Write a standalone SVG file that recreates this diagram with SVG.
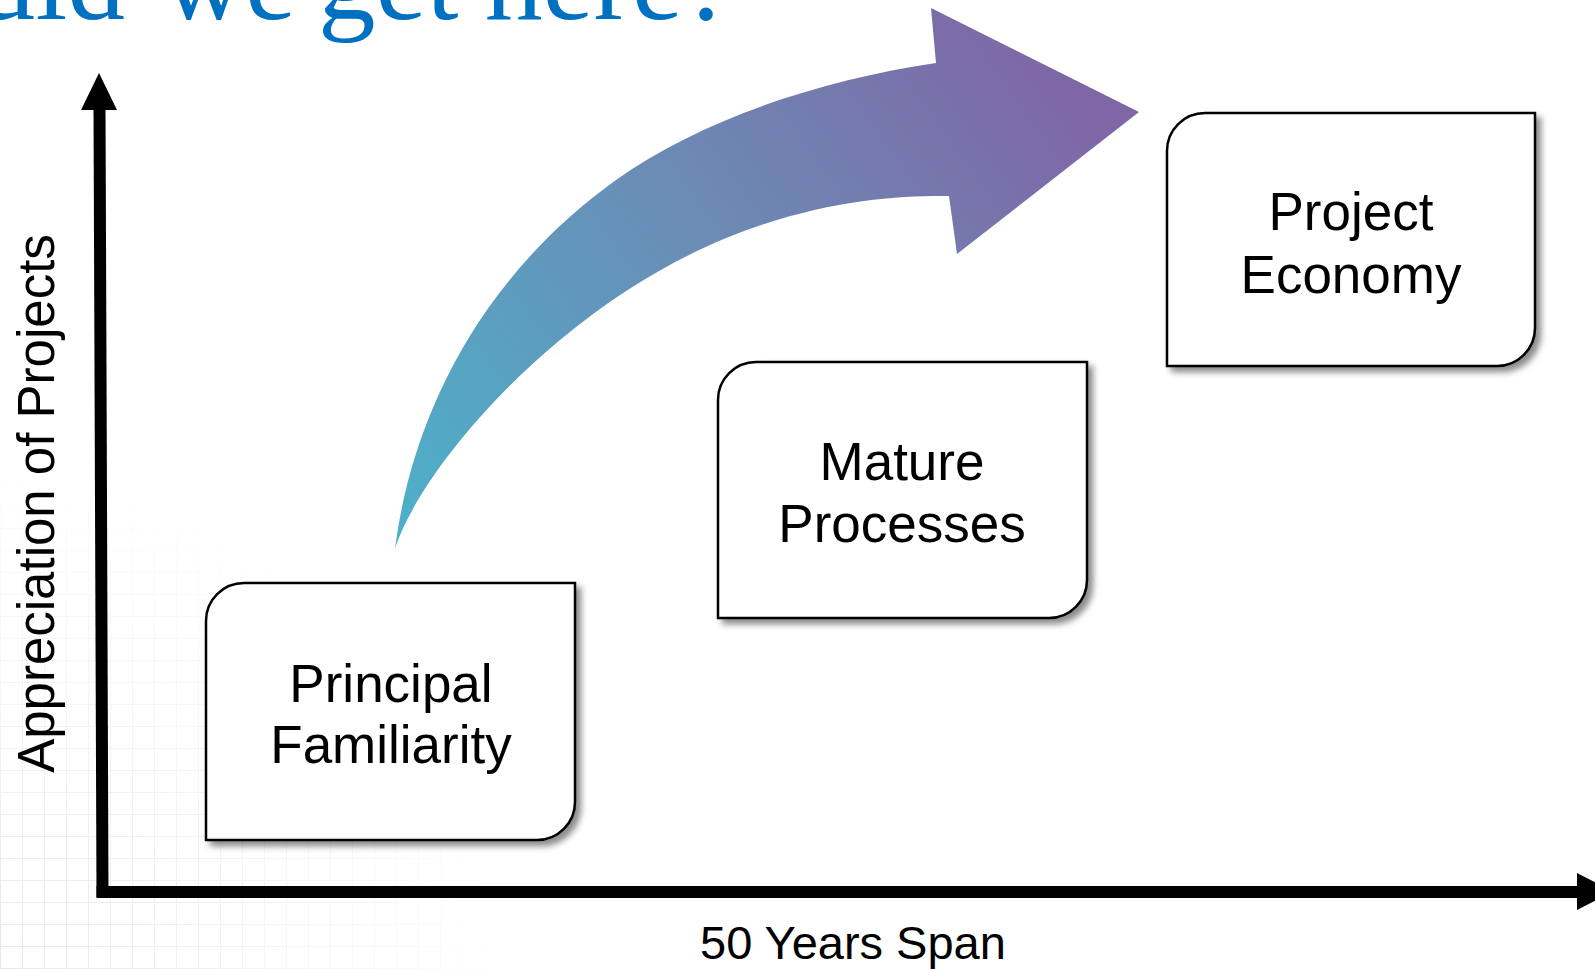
<svg xmlns="http://www.w3.org/2000/svg" width="1595" height="969" viewBox="0 0 1595 969">
  <defs>
    <linearGradient id="arrowGrad" gradientUnits="userSpaceOnUse" x1="420" y1="540" x2="1060" y2="80">
      <stop offset="0" stop-color="#4DAFC9"/>
      <stop offset="0.5" stop-color="#6A8DB6"/>
      <stop offset="1" stop-color="#7F67A5"/>
    </linearGradient>
    <filter id="shadow" x="-10%" y="-10%" width="125%" height="125%">
      <feDropShadow dx="5" dy="5" stdDeviation="3" flood-color="#000" flood-opacity="0.45"/>
    </filter>
    <pattern id="grid" width="22" height="22" patternUnits="userSpaceOnUse">
      <path d="M0 0.5 H22 M0.5 0 V22" fill="none" stroke="#d8d8d8" stroke-width="1"/>
    </pattern>
    <radialGradient id="fade" cx="0" cy="969" r="520" gradientUnits="userSpaceOnUse">
      <stop offset="0" stop-color="#fff" stop-opacity="0.6"/>
      <stop offset="1" stop-color="#fff" stop-opacity="0"/>
    </radialGradient>
    <mask id="fadeMask">
      <rect x="0" y="0" width="1595" height="969" fill="url(#fade)"/>
    </mask>
    <style>
      .box { fill: #ffffff; stroke: #000000; stroke-width: 2.5; filter: url(#shadow); }
      .lbl { font-family: "Liberation Sans", Arial, sans-serif; font-size: 53px; fill: #000; text-anchor: middle; }
      .axislbl { font-family: "Liberation Sans", Arial, sans-serif; fill: #000; text-anchor: middle; }
      .title { font-family: "Liberation Serif", "Times New Roman", serif; font-size: 115px; fill: #0070C0; }
    </style>
  </defs>

  <rect x="0" y="0" width="1595" height="969" fill="#ffffff"/>
  <rect x="0" y="440" width="560" height="529" fill="url(#grid)" mask="url(#fadeMask)"/>

  <text class="title" y="19"><tspan x="-22">uld</tspan><tspan x="162">we</tspan><tspan x="318">get</tspan><tspan x="485">here?</tspan></text>

  <g id="connectors">
    <g id="y-axis">
      <polygon points="93.5,108 105.5,108 108.5,897 96.5,897" fill="#000"/>
      <polygon points="99,73 81,110 117,110" fill="#000"/>
    </g>
    <g id="x-axis">
      <rect x="96.5" y="886" width="1482" height="12" fill="#000"/>
      <polygon points="1577,873 1577,910 1613,891.5" fill="#000"/>
    </g>
    <g id="growth-arrow">
      <path d="M395,549 C410,430 470,285 616,180 C700,120 820,80 936,63 L931,8 L1139,112 L957,254 L949,196 C870,195 719,207 560,340 C470,415 410,500 395,549 Z" fill="url(#arrowGrad)"/>
    </g>
  </g>

  <g id="node-principal">
    <path class="box" d="M206,621 A38,38 0 0 1 244,583 H575 V802 A38,38 0 0 1 537,840 H206 Z"/>
    <text class="lbl" x="391" y="702">Principal</text>
    <text class="lbl" x="391" y="763">Familiarity</text>
  </g>

  <g id="node-mature">
    <path class="box" d="M718,400 A38,38 0 0 1 756,362 H1087 V580 A38,38 0 0 1 1049,618 H718 Z"/>
    <text class="lbl" x="902" y="480">Mature</text>
    <text class="lbl" x="902" y="542">Processes</text>
  </g>

  <g id="node-economy">
    <path class="box" d="M1167,151 A38,38 0 0 1 1205,113 H1535 V328 A38,38 0 0 1 1497,366 H1167 Z"/>
    <text class="lbl" x="1351" y="230">Project</text>
    <text class="lbl" x="1351" y="293">Economy</text>
  </g>

  <text class="axislbl" font-size="51" transform="translate(54,503.5) rotate(-90)">Appreciation of Projects</text>
  <text class="axislbl" font-size="47" x="853" y="959">50 Years Span</text>
</svg>
